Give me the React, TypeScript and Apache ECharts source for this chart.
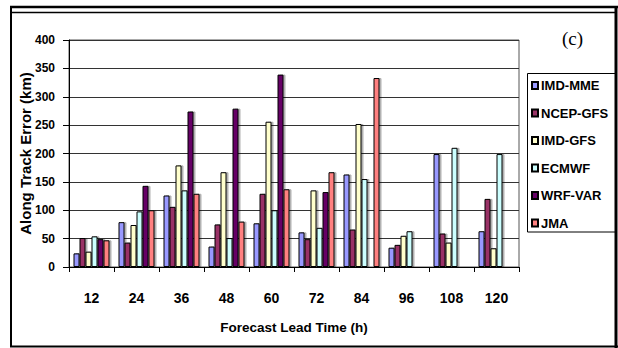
import React, { useEffect, useRef } from "react";
import * as echarts from "echarts";

const categories = ["12", "24", "36", "48", "60", "72", "84", "96", "108", "120"];
const imdMme = [24, 79, 126, 36, 77, 61, 163, 34, 199, 63];
const ncepGfs = [51, 43, 106, 75, 129, 49, 66, 39, 59, 120];
const imdGfs = [27, 74, 179, 167, 256, 135, 252, 55, 43, 33];
const ecmwf = [54, 98, 135, 51, 100, 69, 155, 63, 210, 199];
const wrfVar = [49, 143, 274, 279, 339, 132, null, null, null, null];
const jma = [47, 100, 129, 80, 137, 167, 333, null, null, null];

const seriesNames = ["IMD-MME", "NCEP-GFS", "IMD-GFS", "ECMWF", "WRF-VAR", "JMA"];
const seriesData = [imdMme, ncepGfs, imdGfs, ecmwf, wrfVar, jma];
const seriesColors = ["#9999FF", "#993366", "#FFFFCC", "#CCFFFF", "#660066", "#FF8080"];

const SANS = '"Liberation Sans", Arial, sans-serif';

export default function App() {
  const ref = useRef<HTMLDivElement>(null);
  useEffect(() => {
    if (!ref.current) return;
    const chart = echarts.init(ref.current, null, { renderer: "svg" });
    chart.setOption({
      animation: false,
      backgroundColor: "#ffffff",
      grid: {
        left: 69,
        right: 99,
        top: 40,
        bottom: 81,
        show: true,
        borderColor: "#555555",
        borderWidth: 1,
        backgroundColor: "transparent",
      },
      legend: {
        orient: "vertical",
        left: 531,
        top: 79,
        padding: 0,
        itemWidth: 6,
        itemHeight: 7,
        itemGap: 14.5,
        icon: "rect",
        data: seriesNames,
        textStyle: {
          fontFamily: SANS,
          fontWeight: "bold",
          fontSize: 13,
          color: "#000",
          padding: [0, 0, 0, -2],
        },
      },
      xAxis: {
        type: "category",
        data: categories,
        name: "Forecast Lead Time (h)",
        nameLocation: "middle",
        nameGap: 53,
        nameMoveOverlap: false,
        nameTextStyle: { fontFamily: SANS, fontWeight: "bold", fontSize: 13.5, color: "#000" },
        axisLine: { lineStyle: { color: "#000", width: 1 } },
        axisTick: { show: true, length: 5, lineStyle: { color: "#000" } },
        axisLabel: { fontFamily: SANS, fontWeight: "bold", fontSize: 14, color: "#000", margin: 24 },
      },
      yAxis: {
        type: "value",
        min: 0,
        max: 400,
        interval: 50,
        name: "Along Track Error (km)",
        nameLocation: "middle",
        nameGap: 36,
        nameMoveOverlap: false,
        nameTextStyle: { fontFamily: SANS, fontWeight: "bold", fontSize: 15, color: "#000" },
        axisLine: { show: true, lineStyle: { color: "#000", width: 1 } },
        axisTick: { show: true, length: 6, lineStyle: { color: "#000" } },
        axisLabel: { fontFamily: SANS, fontWeight: "bold", fontSize: 12, color: "#000", margin: 14 },
        splitLine: { show: true, lineStyle: { color: "#333333", width: 1 } },
      },
      series: seriesNames.map((name, i) => ({
        name,
        type: "bar",
        data: seriesData[i],
        barGap: "0%",
        barCategoryGap: "20%",
        itemStyle: {
          color: seriesColors[i],
          borderColor: "#000",
          borderWidth: 1,
          shadowColor: "rgba(0,0,0,0.3)",
          shadowOffsetX: 2,
          shadowOffsetY: 0,
          shadowBlur: 1,
        },
      })),
      graphic: [
        {
          type: "rect",
          shape: { x: 527.5, y: 73.5, width: 88, height: 158.5 },
          style: { fill: "none", stroke: "#000", lineWidth: 1 },
          z: 10,
        },
        {
          type: "text",
          left: 562,
          top: 29,
          style: { text: "(c)", font: '19px "Liberation Serif", "Times New Roman", serif', fill: "#000" },
        },
        { type: "line", shape: { x1: 10, y1: 7, x2: 618, y2: 7 }, style: { stroke: "#000", lineWidth: 2.5 }, z: 20 },
        { type: "line", shape: { x1: 12, y1: 12.5, x2: 616, y2: 12.5 }, style: { stroke: "#000", lineWidth: 1.5 }, z: 20 },
        { type: "line", shape: { x1: 11, y1: 6, x2: 11, y2: 347 }, style: { stroke: "#000", lineWidth: 2 }, z: 20 },
        { type: "line", shape: { x1: 616, y1: 6, x2: 616, y2: 348 }, style: { stroke: "#000", lineWidth: 3 }, z: 20 },
        { type: "line", shape: { x1: 10, y1: 346.5, x2: 618, y2: 346.5 }, style: { stroke: "#000", lineWidth: 2 }, z: 20 },
      ],
    });
    return () => chart.dispose();
  }, []);
  return <div ref={ref} style={{ position: "fixed", left: 0, top: 0, width: 618, height: 348 }} />;
}
